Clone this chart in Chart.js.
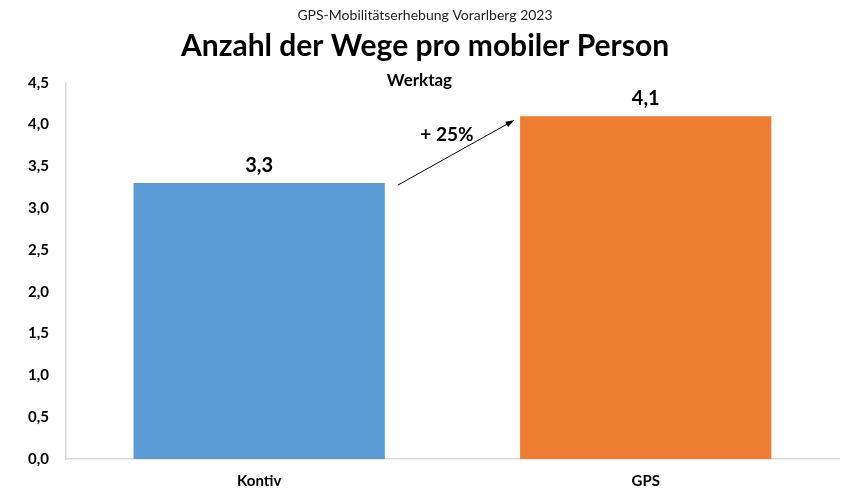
<!DOCTYPE html>
<html>
<head>
<meta charset="utf-8">
<script src="https://cdn.jsdelivr.net/npm/chart.js@4.4.0/dist/chart.umd.min.js"></script>
<style>
  html, body { margin: 0; padding: 0; background: #fff; }
  #wrap { width: 841px; height: 490px; }
</style>
</head>
<body>
<div id="wrap"><canvas id="chart"></canvas></div>
<script>
const kategorien = ['Kontiv', 'GPS'];
const wegeProPerson = [3.3, 4.1];
const balkenFarben = ['#5B9BD5', '#ED7D31'];
const yTicks = [0, 0.5, 1, 1.5, 2, 2.5, 3, 3.5, 4, 4.5];
const zuwachsText = '+ 25%';

const FONT = 'Lato, "Open Sans", sans-serif';
const deutsch = v => v.toFixed(1).replace('.', ',');

// Werte, "Werktag" und Pfeil zeichnen
const extras = {
    id: 'extras',
    afterDatasetsDraw(chart) {
        const ctx = chart.ctx;
        const area = chart.chartArea;
        const bars = chart.getDatasetMeta(0).data;
        ctx.save();
        ctx.fillStyle = '#000';
        ctx.textAlign = 'center';
        ctx.textBaseline = 'alphabetic';

        ctx.font = 'bold 20px ' + FONT;
        bars.forEach((b, i) => {
            ctx.fillText(deutsch(wegeProPerson[i]), b.x, b.y - 11);
        });

        ctx.font = 'bold 17px ' + FONT;
        ctx.fillText('Werktag', (area.left + area.right) / 2 - 33, area.top + 3);

        // Pfeil
        const a = bars[0], b = bars[1];
        const x1 = a.x + a.width / 2 + 13, y1 = a.y + 2;
        const x2 = b.x - b.width / 2 - 6, y2 = b.y + 4;
        ctx.strokeStyle = '#000';
        ctx.lineWidth = 1;
        ctx.beginPath();
        ctx.moveTo(x1, y1);
        ctx.lineTo(x2, y2);
        ctx.stroke();
        const ang = Math.atan2(y2 - y1, x2 - x1);
        ctx.beginPath();
        ctx.moveTo(x2, y2);
        ctx.lineTo(x2 - 9 * Math.cos(ang - 0.35), y2 - 9 * Math.sin(ang - 0.35));
        ctx.lineTo(x2 - 9 * Math.cos(ang + 0.35), y2 - 9 * Math.sin(ang + 0.35));
        ctx.closePath();
        ctx.fill();

        ctx.font = 'bold 19px ' + FONT;
        ctx.fillText(zuwachsText, (x1 + x2) / 2 - 9, (y1 + y2) / 2 - 12);
        ctx.restore();
    }
};

new Chart(document.getElementById('chart'), {
    type: 'bar',
    data: {
        labels: kategorien,
        datasets: [{
            data: wegeProPerson,
            backgroundColor: balkenFarben,
            barPercentage: 0.65,
            categoryPercentage: 1
        }]
    },
    options: {
        responsive: true,
        maintainAspectRatio: false,
        animation: false,
        layout: { padding: { left: 11, right: 2, top: 0, bottom: -13 } },
        plugins: {
            legend: { display: false },
            tooltip: { enabled: false },
            subtitle: {
                display: true,
                text: 'GPS-Mobilitätserhebung Vorarlberg 2023',
                color: '#222',
                weight: 3000,
                font: { family: FONT, size: 14 },
                padding: { top: 7, bottom: 2 }
            },
            title: {
                display: true,
                text: 'Anzahl der Wege pro mobiler Person',
                color: '#000',
                font: { family: FONT, size: 30, weight: 'bold' },
                padding: { top: 3, bottom: 18 }
            }
        },
        scales: {
            x: {
                grid: { display: false, drawTicks: false },
                border: { color: '#D9D9D9', width: 1.5 },
                ticks: {
                    color: '#000',
                    padding: 13,
                    font: { family: FONT, size: 15, weight: 'bold' }
                }
            },
            y: {
                min: 0,
                max: 4.5,
                afterBuildTicks: axis => { axis.ticks = yTicks.map(v => ({ value: v })); },
                grid: { display: false, drawTicks: false },
                border: { color: '#D9D9D9', width: 1.5 },
                ticks: {
                    color: '#000',
                    padding: 17,
                    font: { family: FONT, size: 15, weight: 'bold' },
                    callback: v => deutsch(v)
                }
            }
        }
    },
    plugins: [extras]
});
</script>
</body>
</html>
